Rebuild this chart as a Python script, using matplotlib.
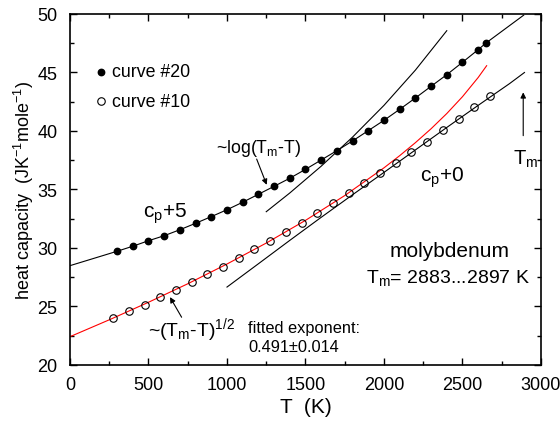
import matplotlib
matplotlib.use("Agg")
import matplotlib.pyplot as plt
from matplotlib.ticker import MultipleLocator

plt.rcParams['font.family'] = ['Liberation Sans', 'DejaVu Sans']
plt.rcParams['mathtext.fontset'] = 'custom'
plt.rcParams['mathtext.rm'] = 'Liberation Sans'
plt.rcParams['mathtext.it'] = 'Liberation Sans:italic'

# ---- data ----
T20 = [300, 400, 500, 600, 700, 800, 900, 1000, 1100, 1200, 1300, 1400, 1500,
       1600, 1700, 1800, 1900, 2000, 2100, 2200, 2300, 2400, 2500, 2600, 2650]
cp20 = [29.72, 30.15, 30.62, 31.05, 31.56, 32.11, 32.68, 33.27, 33.91, 34.59, 35.27,
        35.96, 36.72, 37.52, 38.32, 39.15, 40.03, 40.91, 41.85, 42.82, 43.82, 44.81,
        45.87, 46.95, 47.52]

T10 = [275, 375, 475, 575, 675, 775, 875, 975, 1075, 1175, 1275, 1375, 1475,
       1575, 1675, 1775, 1875, 1975, 2075, 2175, 2275, 2375, 2475, 2575, 2675]
cp10 = [24.02, 24.59, 25.13, 25.79, 26.44, 27.07, 27.75, 28.40, 29.12, 29.89, 30.62,
        31.37, 32.14, 32.99, 33.85, 34.67, 35.53, 36.41, 37.29, 38.18, 39.09, 40.06,
        41.03, 42.05, 42.99]

# fit line through curve #20 (black)
fit20_T = [0] + T20 + [2890]
fit20_cp = [28.49] + cp20 + [49.9]

# red (Tm-T)^1/2 fit for curve #10
fit10_T = [0, 250, 500, 750, 1000, 1250, 1500, 1750, 2000, 2100, 2200, 2300, 2400,
           2500, 2600, 2654]
fit10_cp = [22.42, 23.86, 25.36, 26.94, 28.63, 30.42, 32.36, 34.48, 36.85, 37.89,
            39.00, 40.19, 41.49, 42.93, 44.57, 45.58]

# log(Tm-T) lines
logU_T = [1250, 1400, 1600, 1800, 2000, 2200, 2400]
logU_cp = [33.10, 34.70, 36.99, 39.48, 42.19, 45.20, 48.57]
logL_T = [1000, 1200, 1400, 1600, 1800, 2000, 2200, 2400, 2600, 2800, 2895]
logL_cp = [26.66, 28.65, 30.65, 32.62, 34.55, 36.46, 38.38, 40.30, 42.19, 44.05, 45.0]

fig = plt.figure(figsize=(5.6, 4.27), dpi=100)
ax = fig.add_axes([0.125, 0.1429, 0.841, 0.822])

ax.plot(fit20_T, fit20_cp, color='k', lw=0.8)
ax.plot(fit10_T, fit10_cp, color='#ff0000', lw=0.8)
ax.plot(logU_T, logU_cp, color='k', lw=0.8)
ax.plot(logL_T, logL_cp, color='k', lw=0.8)

ax.plot(T20, cp20, 'o', color='k', ms=4.6, zorder=5)
ax.plot(T10, cp10, 'o', mfc='none', mec='k', mew=0.8, ms=5.4, zorder=5)

# legend-like entries
ax.plot([199], [45.07], 'o', color='k', ms=4.6)
ax.text(265, 45.07, 'curve #20', fontsize=12.8, va='center', ha='left')
ax.plot([199], [42.54], 'o', mfc='none', mec='k', mew=0.8, ms=5.4)
ax.text(265, 42.54, 'curve #10', fontsize=12.8, va='center', ha='left')

ap = dict(arrowstyle='-|>', color='k', lw=0.8, mutation_scale=8, shrinkA=0, shrinkB=0)
ax.text(930, 38.6, r'~log(T$_\mathrm{m}$-T)', fontsize=12.8, va='center', ha='left')
ax.annotate('', xy=(1253, 35.4), xytext=(1189, 37.6), arrowprops=ap)

ax.text(465, 33.0, r'c$_\mathrm{p}$+5', fontsize=15, va='center', ha='left')
ax.text(2229, 36.1, r'c$_\mathrm{p}$+0', fontsize=15, va='center', ha='left')

ax.annotate('', xy=(2887, 43.3), xytext=(2887, 39.6), arrowprops=ap)
ax.text(2822, 37.7, r'T$_\mathrm{m}$', fontsize=14.5, va='center', ha='left')

ax.text(2420, 29.8, 'molybdenum', fontsize=15, va='center', ha='center')
ax.text(2410, 27.55, r'T$_\mathrm{m}$= 2883...2897 K', fontsize=14, va='center',
        ha='center')

ax.text(499, 23.1, r'~(T$_\mathrm{m}$-T)$^{1/2}$', fontsize=14, va='center', ha='left')
ax.annotate('', xy=(637, 25.8), xytext=(711, 24.08), arrowprops=ap)

ax.text(1136, 23.22, 'fitted exponent:', fontsize=11.8, va='center', ha='left')
ax.text(1136, 21.6, '0.491±0.014', fontsize=11.8, va='center', ha='left')

ax.set_xlim(0, 3000)
ax.set_ylim(20, 50)
ax.xaxis.set_major_locator(MultipleLocator(500))
ax.xaxis.set_minor_locator(MultipleLocator(250))
ax.yaxis.set_major_locator(MultipleLocator(5))
ax.yaxis.set_minor_locator(MultipleLocator(2.5))
ax.tick_params(which='both', direction='in', top=True, right=True, labelsize=13,
               width=1.0)
ax.tick_params(which='major', length=5)
ax.tick_params(which='minor', length=3)
ax.tick_params(axis='x', which='major', pad=8)
ax.tick_params(axis='y', which='major', pad=9)
for s in ax.spines.values():
    s.set_linewidth(1.2)

ax.set_xlabel('T  (K)', fontsize=15, labelpad=3)
ax.set_ylabel(r'heat capacity  (JK$^{-1}$mole$^{-1}$)', fontsize=13, labelpad=1)

fig.savefig('out.png', dpi=100)
